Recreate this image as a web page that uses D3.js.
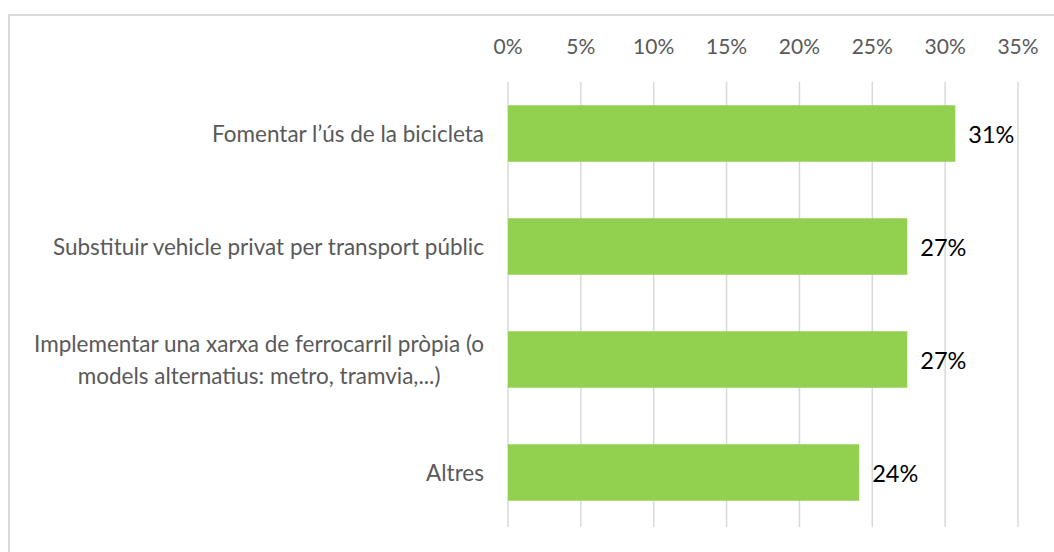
<!DOCTYPE html>
<html>
<head>
<meta charset="utf-8">
<script src="https://cdn.jsdelivr.net/npm/d3@7.9.0/dist/d3.min.js"></script>
<style>
  body { margin: 0; background: #fff; }
  svg { display: block; font-family: Lato, "Open Sans", sans-serif; }
</style>
</head>
<body>
<svg id="chart" width="1054" height="552"></svg>
<script>
const categories = [
  ['Fomentar l’ús de la bicicleta'],
  ['Substituir vehicle privat per transport públic'],
  ['Implementar una xarxa de ferrocarril pròpia (o', 'models alternatius: metro, tramvia,...)'],
  ['Altres']
];
const values = [0.307, 0.274, 0.274, 0.241];
const valueLabels = ['31%', '27%', '27%', '24%'];
const ticks = [0, 0.05, 0.10, 0.15, 0.20, 0.25, 0.30, 0.35];

const svg = d3.select('#chart');

// frame (only top and left edges fall inside the picture)
svg.append('path')
  .attr('d', 'M9,560 V15 H1060')
  .attr('fill', 'none')
  .attr('stroke', '#d9d9d9')
  .attr('stroke-width', 2);

const x = d3.scaleLinear().domain([0, 0.35]).range([508, 1018]);
const y = d3.scaleBand().domain(d3.range(categories.length)).range([77, 529]).paddingInner(0.5).paddingOuter(0.25);

// gridlines
svg.append('g')
  .selectAll('line')
  .data(ticks)
  .join('line')
  .attr('x1', d => x(d)).attr('x2', d => x(d))
  .attr('y1', 82).attr('y2', 527)
  .attr('stroke', '#d9d9d9')
  .attr('stroke-width', 1.5);

// top axis labels
svg.append('g')
  .selectAll('text')
  .data(ticks)
  .join('text')
  .attr('x', d => x(d))
  .attr('y', 54)
  .attr('text-anchor', 'middle')
  .attr('fill', '#595959')
  .attr('font-size', 21)
  .text(d => d3.format('.0%')(d));

// bars
svg.append('g')
  .selectAll('rect')
  .data(values)
  .join('rect')
  .attr('x', x(0))
  .attr('y', (d, i) => y(i))
  .attr('width', d => x(d) - x(0))
  .attr('height', y.bandwidth())
  .attr('fill', '#92d050');

// value labels
svg.append('g')
  .selectAll('text')
  .data(values)
  .join('text')
  .attr('x', d => x(d) + 13)
  .attr('y', (d, i) => y(i) + y.bandwidth() / 2 + 9)
  .attr('fill', '#000')
  .attr('font-size', 23.5)
  .text((d, i) => valueLabels[i]);

// category labels: wrapped labels are centred as a block, right edge at 484
const labelRight = 484;
const cat = svg.append('g')
  .selectAll('text')
  .data(categories)
  .join('text')
  .attr('fill', '#595959')
  .attr('font-size', 22.5)
  .attr('y', (d, i) => y(i) + y.bandwidth() / 2 + 8 - (d.length - 1) * 16);

cat.selectAll('tspan')
  .data(d => d)
  .join('tspan')
  .attr('dy', (d, j) => j === 0 ? 0 : 32)
  .text(d => d);

cat.each(function(d) {
  const t = d3.select(this);
  if (d.length === 1) {
    t.attr('text-anchor', 'end').selectAll('tspan').attr('x', labelRight);
  } else {
    const w = d3.max(t.selectAll('tspan').nodes(), n => n.getComputedTextLength());
    t.attr('text-anchor', 'middle').selectAll('tspan').attr('x', labelRight - w / 2);
  }
});
</script>
</body>
</html>
